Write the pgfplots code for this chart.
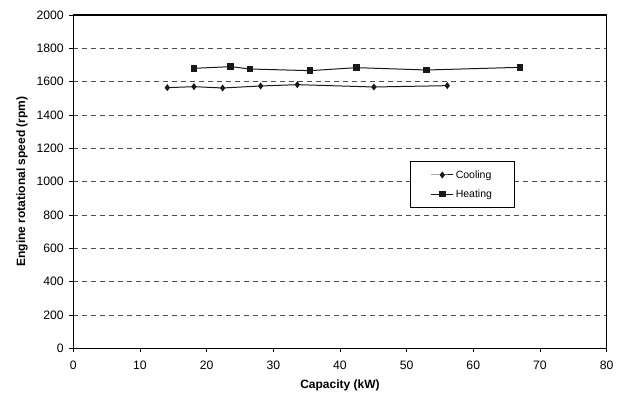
\documentclass[border=0pt]{standalone}
\usepackage{fontspec}
\setmainfont{Liberation Sans}
\usepackage{pgfplots}
\pgfplotsset{compat=1.18}
\usetikzlibrary{calc}
\begin{document}
\begin{tikzpicture}
\begin{axis}[
  scale only axis, width=533.3pt, height=333.3pt,
  xmin=0, xmax=80, ymin=0, ymax=2000,
  xtick={0,10,...,80}, ytick={0,200,...,2000},
  xtick pos=bottom, ytick pos=left,
  tick align=outside, major tick length=4pt,
  tick style={black, line width=0.8pt},
  axis line style={black, line width=1.1pt},
  ymajorgrids,
  grid style={dash pattern=on 5pt off 4pt, black!70, line width=0.9pt},
  /pgf/number format/assume math mode=true,
  /pgf/number format/1000 sep={},
  tick label style={font=\fontsize{12.2}{14}\selectfont},
  xticklabel style={yshift=-5pt},
  yticklabel style={xshift=-2pt},
  xlabel={Capacity (kW)},
  ylabel={Engine rotational speed (rpm)},
  label style={font=\fontsize{12}{14}\selectfont\bfseries},
  xlabel style={at={(axis description cs:0.5,-0.11)}, anchor=center},
  ylabel style={at={(axis description cs:-0.096,0.5)}, anchor=center},
  legend style={at={(0.632,0.562)}, anchor=north west, draw=black,
    line width=0.9pt, font=\fontsize{10.5}{12}\selectfont,
    inner xsep=20pt, inner ysep=7pt, row sep=6pt},
  legend image code/.code={
    \draw[mark repeat=2, mark phase=2] plot coordinates {(0pt,0pt) (11pt,0pt) (22pt,0pt)};},
  legend cell align=left,
]
\addplot[black!90, line width=1pt, mark=diamond*, mark size=2.7pt,
  mark options={solid}] coordinates {
  (14.1,1564) (18.1,1570) (22.4,1562) (28.1,1574)
  (33.6,1582) (45.1,1568) (56.1,1576)};
\addlegendentry{Cooling}
\addplot[black!90, line width=1pt, mark=square*, mark size=2.7pt,
  mark options={solid}] coordinates {
  (18.1,1680) (23.6,1690) (26.5,1676) (35.5,1666)
  (42.5,1684) (53.0,1670) (67.0,1686)};
\addlegendentry{Heating}
\end{axis}
\path ($(current axis.south west)+(-73.3pt,-46.7pt)$) rectangle ($(current axis.north east)+(16.4pt,15pt)$);
\end{tikzpicture}
\end{document}
